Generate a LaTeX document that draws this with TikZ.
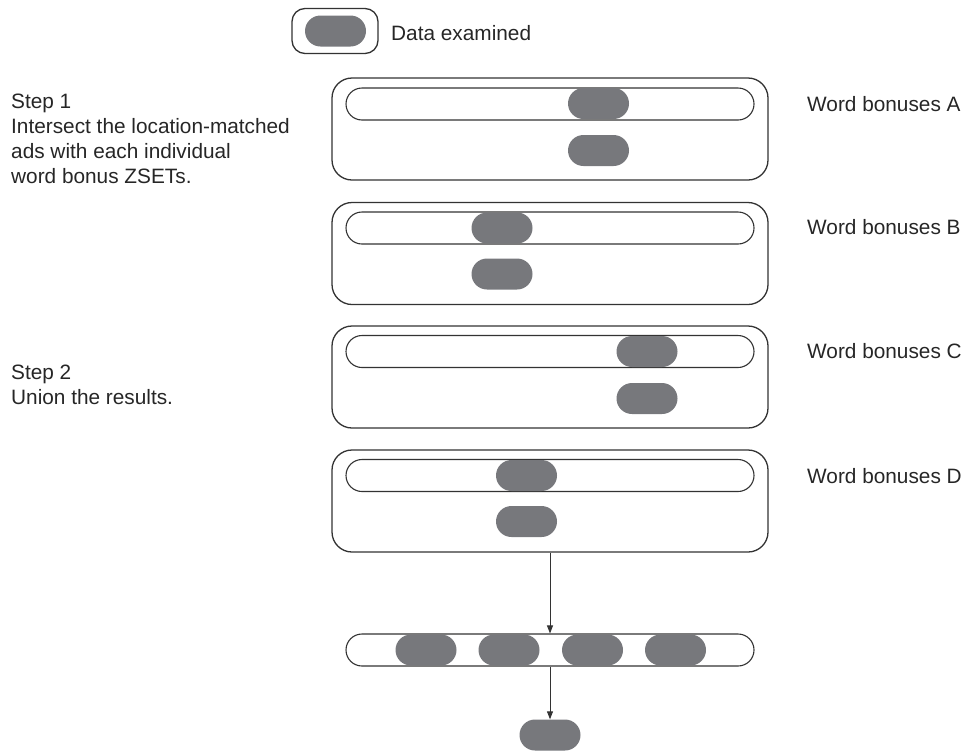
\documentclass[tikz,border=0pt]{standalone}
\usepackage{fontspec}
\setmainfont{Liberation Sans}
\usetikzlibrary{arrows.meta}
\definecolor{pillgray}{HTML}{77787C}
\definecolor{linecol}{HTML}{333333}
\begin{document}
\begin{tikzpicture}[x=1pt,y=-1pt,
  txt/.style={inner sep=0pt,font=\fontsize{20.8}{25}\selectfont,text=black!85},
  pill/.style={fill=pillgray,draw=none,minimum width=61pt,minimum height=31pt,rounded corners=15.5pt,inner sep=0pt},
  bar/.style={draw=linecol,line width=1.1pt,minimum width=408pt,minimum height=32pt,rounded corners=16pt,inner sep=0pt},
  groupbox/.style={draw=linecol,line width=1.3pt,minimum width=436pt,minimum height=102pt,rounded corners=20pt,inner sep=0pt},
  legendbox/.style={draw=linecol,line width=1.3pt,minimum width=86pt,minimum height=45pt,rounded corners=13pt,inner sep=0pt},
  conn/.style={draw=linecol,line width=0.9pt,-{Triangle[length=8pt,width=6pt]}}
]
\useasboundingbox (0,0) rectangle (971,753);
% legend
\node[legendbox] (leg) at (335,31) {};
\node[pill] (legp) at (335.5,31) {};
\node[txt,anchor=base west] (legt) at (391,40) {Data examined};
% left texts
\node[txt,anchor=north west,align=left] (s1) at (11,93.6) {Step 1\\Intersect the location-matched\\ads with each individual\\word bonus ZSETs.};
\node[txt,anchor=north west,align=left] (s2) at (11,364.6) {Step 2\\Union the results.};
% group A
\node[groupbox] (A) at (550,129) {};
\node[bar] (Ab) at (550,104) {};
\node[pill] (Ap1) at (598.5,103.5) {};
\node[pill] (Ap2) at (598.5,150.5) {};
\node[txt,anchor=base west] (At) at (807,111.5) {Word bonuses A};
% group B
\node[groupbox] (B) at (550,253.5) {};
\node[bar] (Bb) at (550,228) {};
\node[pill] (Bp1) at (502,228) {};
\node[pill] (Bp2) at (502,274) {};
\node[txt,anchor=base west] (Bt) at (807,234.5) {Word bonuses B};
% group C
\node[groupbox] (C) at (550,377) {};
\node[bar] (Cb) at (550,351.5) {};
\node[pill] (Cp1) at (647,351.5) {};
\node[pill] (Cp2) at (647,398.5) {};
\node[txt,anchor=base west] (Ct) at (807,358.5) {Word bonuses C};
% group D
\node[groupbox] (D) at (550,501) {};
\node[bar] (Db) at (550,475.5) {};
\node[pill] (Dp1) at (526.5,475.5) {};
\node[pill] (Dp2) at (526.5,521.5) {};
\node[txt,anchor=base west] (Dt) at (807,483) {Word bonuses D};
% union bar
\node[bar] (U) at (550,650) {};
\node[pill] (U1) at (426,650) {};
\node[pill] (U2) at (509,650) {};
\node[pill] (U3) at (592.5,650) {};
\node[pill] (U4) at (675.5,650) {};
\node[pill] (F) at (550,735) {};
% connectors
\draw[conn] (D.south) -- (U.north);
\draw[conn] (U.south) -- (F.north);
\end{tikzpicture}
\end{document}
